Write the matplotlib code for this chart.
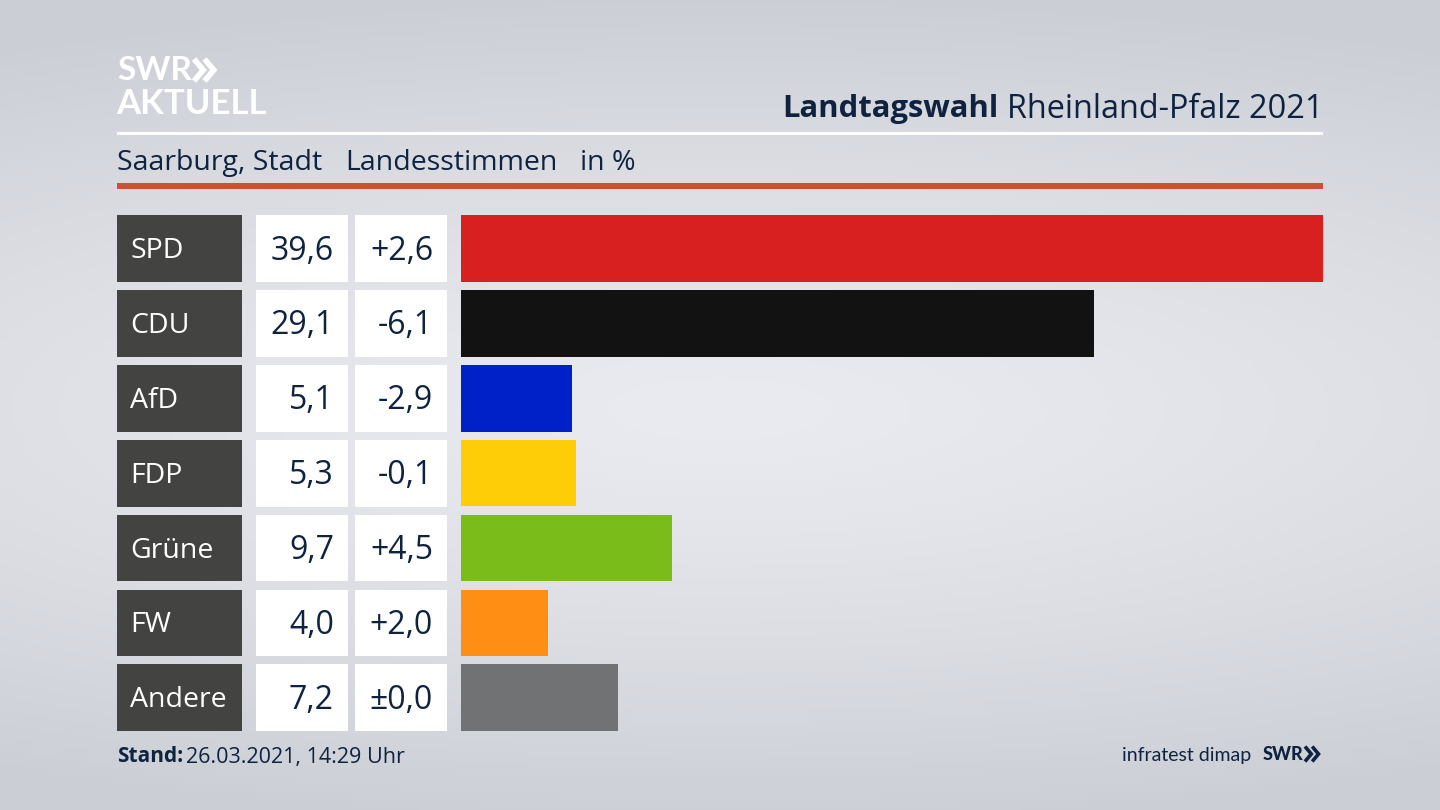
import numpy as np
import matplotlib
matplotlib.use("Agg")
import matplotlib.pyplot as plt
from matplotlib.patches import Rectangle

parties = ['SPD', 'CDU', 'AfD', 'FDP', 'Grüne', 'FW', 'Andere']
shares = [39.6, 29.1, 5.1, 5.3, 9.7, 4.0, 7.2]
share_labels = ['39,6', '29,1', '5,1', '5,3', '9,7', '4,0', '7,2']
change_labels = ['+2,6', '-6,1', '-2,9', '-0,1', '+4,5', '+2,0', '±0,0']
colors = ['#d7201f', '#121212', '#0021c8', '#ffcc08', '#7abc19', '#ff8f14', '#717274']

W, H = 1440, 810
NAVY = '#0f2340'
FONT = 'Open Sans'
plt.rcParams['font.family'] = [FONT, 'DejaVu Sans']

fig = plt.figure(figsize=(W / 100, H / 100), dpi=100)

# page axes in pixels, y downwards
page = fig.add_axes([0, 0, 1, 1])
page.set_xlim(0, W)
page.set_ylim(H, 0)
page.axis('off')

# background glow, mostly a horizontal band
yy, xx = np.mgrid[0:H:200j, 0:W:356j]
dist = np.sqrt(((xx - 720) / 1500) ** 2 + ((yy - 410) / 420) ** 2)
dist = np.clip(dist, 0, 1)
edge = np.array([0xcb, 0xce, 0xd5]) / 255
mid = np.array([0xea, 0xeb, 0xf0]) / 255
bg = mid + (edge - mid) * dist[..., None] ** 1.3
page.imshow(bg, extent=[0, W, H, 0], aspect='auto', zorder=0)
page.set_xlim(0, W)
page.set_ylim(H, 0)


def chevrons(x, y, h, color, lw):
    # the two arrow heads of the SWR logo
    for dx in (0, h * 0.48):
        page.plot([x + dx, x + dx + h * 0.42, x + dx], [y - h / 2, y, y + h / 2],
                  color=color, lw=lw, solid_joinstyle='miter', solid_capstyle='butt')


# header
page.text(117, 70.5, 'SWR', color='white', fontsize=24, fontweight='bold', family='Lato', va='center', ha='left')
chevrons(194, 70, 22, 'white', 4)
page.text(116, 104, 'AKTUELL', color='white', fontsize=25, fontweight='bold', family='Lato', va='center', ha='left')
t = page.text(1323, 109, 'Rheinland-Pfalz 2021', color=NAVY, fontsize=23.4, va='center', ha='right')
fig.canvas.draw()
left = t.get_window_extent().x0
page.text(left * W / fig.bbox.width - 8, 109, 'Landtagswahl', color=NAVY, fontsize=22.3, fontweight='bold', va='center', ha='right')
page.add_patch(Rectangle((117, 132), 1206, 3, color='white', lw=0))
page.text(117, 163, 'Saarburg, Stadt', color=NAVY, fontsize=20.5, va='center')
page.text(345, 163, 'Landesstimmen', color=NAVY, fontsize=20.5, va='center')
page.text(580, 163, 'in %', color=NAVY, fontsize=20.5, va='center')
page.add_patch(Rectangle((117, 183), 1206, 6, color='#cb5038', lw=0))

# table cells
for i, party in enumerate(parties):
    top = 215 + i * 74.9
    page.add_patch(Rectangle((117, top), 124.5, 66.8, color='#434341', lw=0))
    page.add_patch(Rectangle((256, top), 92, 66.8, color='white', lw=0))
    page.add_patch(Rectangle((355, top), 92, 66.8, color='white', lw=0))
    cy = top + 36
    page.text(130.5, cy, party, color='white', fontsize=20.5, va='center')
    page.text(334, cy, share_labels[i], color=NAVY, fontsize=23, va='center', ha='right')
    page.text(433, cy, change_labels[i], color=NAVY, fontsize=23, va='center', ha='right')

# footer
page.text(117, 757, 'Stand:', color=NAVY, fontsize=15, fontweight='bold', va='center')
page.text(186, 757, '26.03.2021, 14:29 Uhr', color=NAVY, fontsize=15.5, va='center')
page.text(1251, 755, 'infratest dimap', color=NAVY, fontsize=14, family='Lato', va='center', ha='right')
page.text(1303, 754, 'SWR', color=NAVY, fontsize=13, fontweight='black', family='Lato', va='center', ha='right')
chevrons(1305, 754, 15, NAVY, 2.6)

# bars, scale runs from the bar origin to the SPD value
ax = fig.add_axes([461 / W, 1 - (215 + 6 * 74.9 + 66.8) / H, (1323 - 461) / W, (6 * 74.9 + 66.8) / H])
ax.patch.set_alpha(0)
ax.set_xlim(0, 39.6)
row_h = 66.8 / 74.9
ax.set_ylim(6 + row_h / 2, -row_h / 2)
ax.barh(range(len(parties)), shares, height=row_h, color=colors, linewidth=0)
ax.axis('off')

fig.savefig('out.png', dpi=100)
